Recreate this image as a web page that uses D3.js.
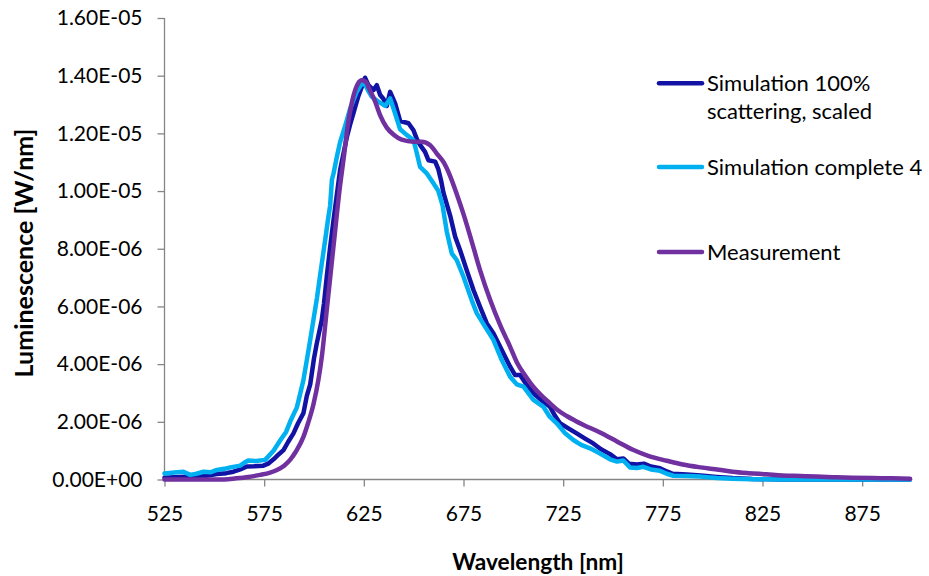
<!DOCTYPE html>
<html>
<head>
<meta charset="utf-8">
<script src="https://cdn.jsdelivr.net/npm/d3@7"></script>
<style>
  html, body { margin: 0; padding: 0; background: #fff; }
  svg { display: block; font-family: Lato, "Liberation Sans", sans-serif; }
</style>
</head>
<body>
<svg id="chart" width="929" height="576"></svg>
<script>
// Luminescence spectra, values in units of 1e-6 W/nm
const seriesNames = ["Simulation 100%\nscattering, scaled", "Simulation complete 4", "Measurement"];
const seriesColors = ["#1212A4", "#00B0F0", "#7030A0"];

const scatteringNm = [525,530,537.9,545,551.3,556,559.6,563,566.3,570,574.6,577,579.7,582,584.7,587,589.7,592,594.7,596.4,598.1,600,601.4,603.9,605,606.4,608,609.8,611.5,613.1,614.8,616.5,618.1,619.8,621,622.3,624,625.6,627.3,629.8,631.5,633.2,634.8,636.5,638.2,640.7,643.2,647.4,649.9,651.6,653.2,655.7,657.4,660.8,662.4,663.8,664.9,668.3,670.8,673.3,676.6,680,683.3,686.7,690,694.2,698.4,700.9,703.4,706.5,710.1,714,718.4,721,723.4,727,731.8,736,740.1,744,748.5,752,755.2,758,762,765.5,769,773.6,777,780,787,794,802,810,820,835,860,899];
const scatteringVal = [0.06,0.08,0.10,0.12,0.19,0.22,0.27,0.35,0.45,0.46,0.48,0.55,0.70,0.85,1.02,1.30,1.60,1.95,2.30,2.90,3.30,4.20,4.72,5.53,6.10,7.03,8.00,9.00,9.90,10.73,11.30,11.88,12.30,12.70,13.00,13.30,13.62,13.93,13.67,13.50,13.67,13.33,13.20,12.95,13.44,13.04,12.43,12.35,12.11,11.80,11.60,11.36,11.07,11.02,10.75,10.35,9.95,9.15,8.42,7.95,7.26,6.57,5.99,5.41,5.07,4.49,3.91,3.62,3.62,3.30,2.99,2.75,2.52,2.20,1.95,1.80,1.60,1.42,1.25,1.05,0.88,0.70,0.73,0.55,0.52,0.55,0.45,0.39,0.28,0.20,0.17,0.14,0.09,0.05,0.02,0.00,0.00,0.00];

const completeNm = [525,530,534.5,537.9,541,544.6,548,551.3,555,558,563,565,567,571,575.5,579.7,583,586,588,591.4,593,594.7,596.4,598,599.7,601.5,603.1,605.6,607,608.1,609,609.8,611.5,613.1,615.6,618.1,621.5,624,625.6,627,629,632.3,635.7,638.2,640.7,643.2,646.6,649.9,651.6,653.2,656.6,659.9,662.4,664.5,666.6,669.1,671.6,675,679.1,681.7,685.8,690,694.2,698.4,701.7,705.1,710.1,715.1,718,721.8,726,730.1,734,738.5,743.5,748.5,752,755.2,758.5,762,765.2,769,773.6,777,780.3,787,794,802,810,820,835,850,875,899];
const completeVal = [0.21,0.24,0.27,0.16,0.20,0.27,0.25,0.33,0.37,0.42,0.48,0.58,0.66,0.64,0.68,1.00,1.35,1.65,2.00,2.50,2.95,3.45,4.14,4.80,5.53,6.30,7.10,8.30,9.00,9.50,10.40,10.61,11.20,11.70,12.25,12.85,13.45,13.73,13.70,13.50,13.27,13.10,12.95,13.21,12.69,12.14,11.94,11.77,11.31,10.84,10.61,10.27,10.00,9.50,8.60,7.84,7.61,7.03,6.22,5.76,5.30,4.84,4.14,3.56,3.30,3.22,2.76,2.52,2.20,1.95,1.60,1.37,1.20,1.08,0.90,0.70,0.62,0.66,0.42,0.40,0.44,0.35,0.30,0.20,0.13,0.12,0.10,0.05,0.03,0.01,0.00,0.00,0.00,0.00];

const measurementNm = [525,540,555,561,567,573,578,581.4,585,588,591,594.7,597,599.7,602.2,604,606.4,609.8,613.1,615,617,619.8,622,624,626,628,630.7,633.2,636.5,640,644,649.9,654,658.3,661.6,665,668.3,671.6,675,678.3,683.3,688.4,693.4,698.4,702,706,710,714,718.4,722,726.8,731,735,743.5,752,760,768,777,785,794,803,810,818,827,835,844,852,860,870,880,890,899];
const measurementVal = [0.00,0.00,0.00,0.04,0.09,0.16,0.24,0.33,0.48,0.68,0.98,1.48,1.95,2.60,3.45,4.30,5.88,8.10,10.20,11.20,12.30,13.30,13.72,13.84,13.78,13.50,13.10,12.62,12.20,11.95,11.78,11.71,11.71,11.59,11.30,11.00,10.52,9.90,9.20,8.45,7.26,6.22,5.35,4.60,4.03,3.60,3.22,2.92,2.64,2.42,2.20,2.04,1.90,1.63,1.32,1.03,0.81,0.65,0.52,0.42,0.34,0.27,0.22,0.18,0.14,0.12,0.10,0.08,0.06,0.05,0.04,0.03];

const xTicks = [525,575,625,675,725,775,825,875];
const yTicks = [0,2e-6,4e-6,6e-6,8e-6,1e-5,1.2e-5,1.4e-5,1.6e-5];

const unit = 1e-6;
const series = [
  { name: seriesNames[0], color: seriesColors[0], nm: scatteringNm, val: scatteringVal, curve: d3.curveLinear },
  { name: seriesNames[1], color: seriesColors[1], nm: completeNm, val: completeVal, curve: d3.curveLinear },
  { name: seriesNames[2], color: seriesColors[2], nm: measurementNm, val: measurementVal, curve: d3.curveMonotoneX }
];

const svg = d3.select("#chart");
const axisColor = "#868686";
const textColor = "#000";

const x = d3.scaleLinear().domain([525, 900]).range([164.5, 912]);
const y = d3.scaleLinear().domain([0, 1.6e-5]).range([479.5, 18]);

function sci(v) {
  if (v === 0) return "0.00E+00";
  const e = Math.floor(Math.log10(Math.abs(v)) + 1e-9);
  const m = v / Math.pow(10, e);
  return m.toFixed(2) + "E" + (e < 0 ? "-" : "+") + String(Math.abs(e)).padStart(2, "0");
}

// y axis
const yAxis = svg.append("g")
  .attr("transform", `translate(${x(525)},0)`)
  .call(d3.axisLeft(y).tickValues(yTicks).tickFormat(sci).tickSize(7).tickPadding(15));
// x axis
const xAxis = svg.append("g")
  .attr("transform", `translate(0,${y(0)})`)
  .call(d3.axisBottom(x).tickValues(xTicks).tickFormat(d3.format("d")).tickSize(7).tickPadding(20));

[yAxis, xAxis].forEach(g => {
  g.select(".domain").attr("stroke", axisColor).attr("stroke-width", 1.3);
  g.selectAll(".tick line").attr("stroke", axisColor).attr("stroke-width", 1.3);
  g.selectAll(".tick text").attr("fill", textColor).style("font-size", "21px").style("font-family", "Lato, sans-serif");
});
yAxis.select(".domain").attr("d", `M0,${y(1.6e-5)}V${y(0)}`);
xAxis.select(".domain").attr("d", `M${x(525)},0H${x(900)}`);

// series lines
series.forEach(s => {
  const line = d3.line()
    .x(d => x(d[0]))
    .y(d => y(d[1] * unit))
    .curve(s.curve);
  svg.append("path")
    .datum(s.nm.map((n, i) => [n, s.val[i]]))
    .attr("fill", "none")
    .attr("stroke", s.color)
    .attr("stroke-width", 4.5)
    .attr("stroke-linejoin", "round")
    .attr("stroke-linecap", "round")
    .attr("d", line);
});

// axis titles
svg.append("text")
  .attr("x", 538).attr("y", 570)
  .attr("text-anchor", "middle")
  .style("font-size", "22.7px").style("font-weight", "bold")
  .attr("fill", textColor)
  .text("Wavelength [nm]");

svg.append("text")
  .attr("transform", "translate(33,253) rotate(-90)")
  .attr("text-anchor", "middle")
  .style("font-size", "25px").style("font-weight", "bold")
  .attr("fill", textColor)
  .text("Luminescence [W/nm]");

// legend
const legendY = [83.3, 167, 252];
series.forEach((s, i) => {
  const g = svg.append("g").attr("transform", `translate(0,${legendY[i]})`);
  g.append("line")
    .attr("x1", 659).attr("x2", 702)
    .attr("y1", 0).attr("y2", 0)
    .attr("stroke", s.color).attr("stroke-width", 4.5).attr("stroke-linecap", "round");
  const t = g.append("text")
    .attr("x", 707).attr("y", 7.6)
    .style("font-size", "22px")
    .attr("fill", textColor);
  s.name.split("\n").forEach((part, k) => {
    t.append("tspan").attr("x", 707).attr("dy", k === 0 ? 0 : 27.7).text(part);
  });
});
</script>
</body>
</html>
